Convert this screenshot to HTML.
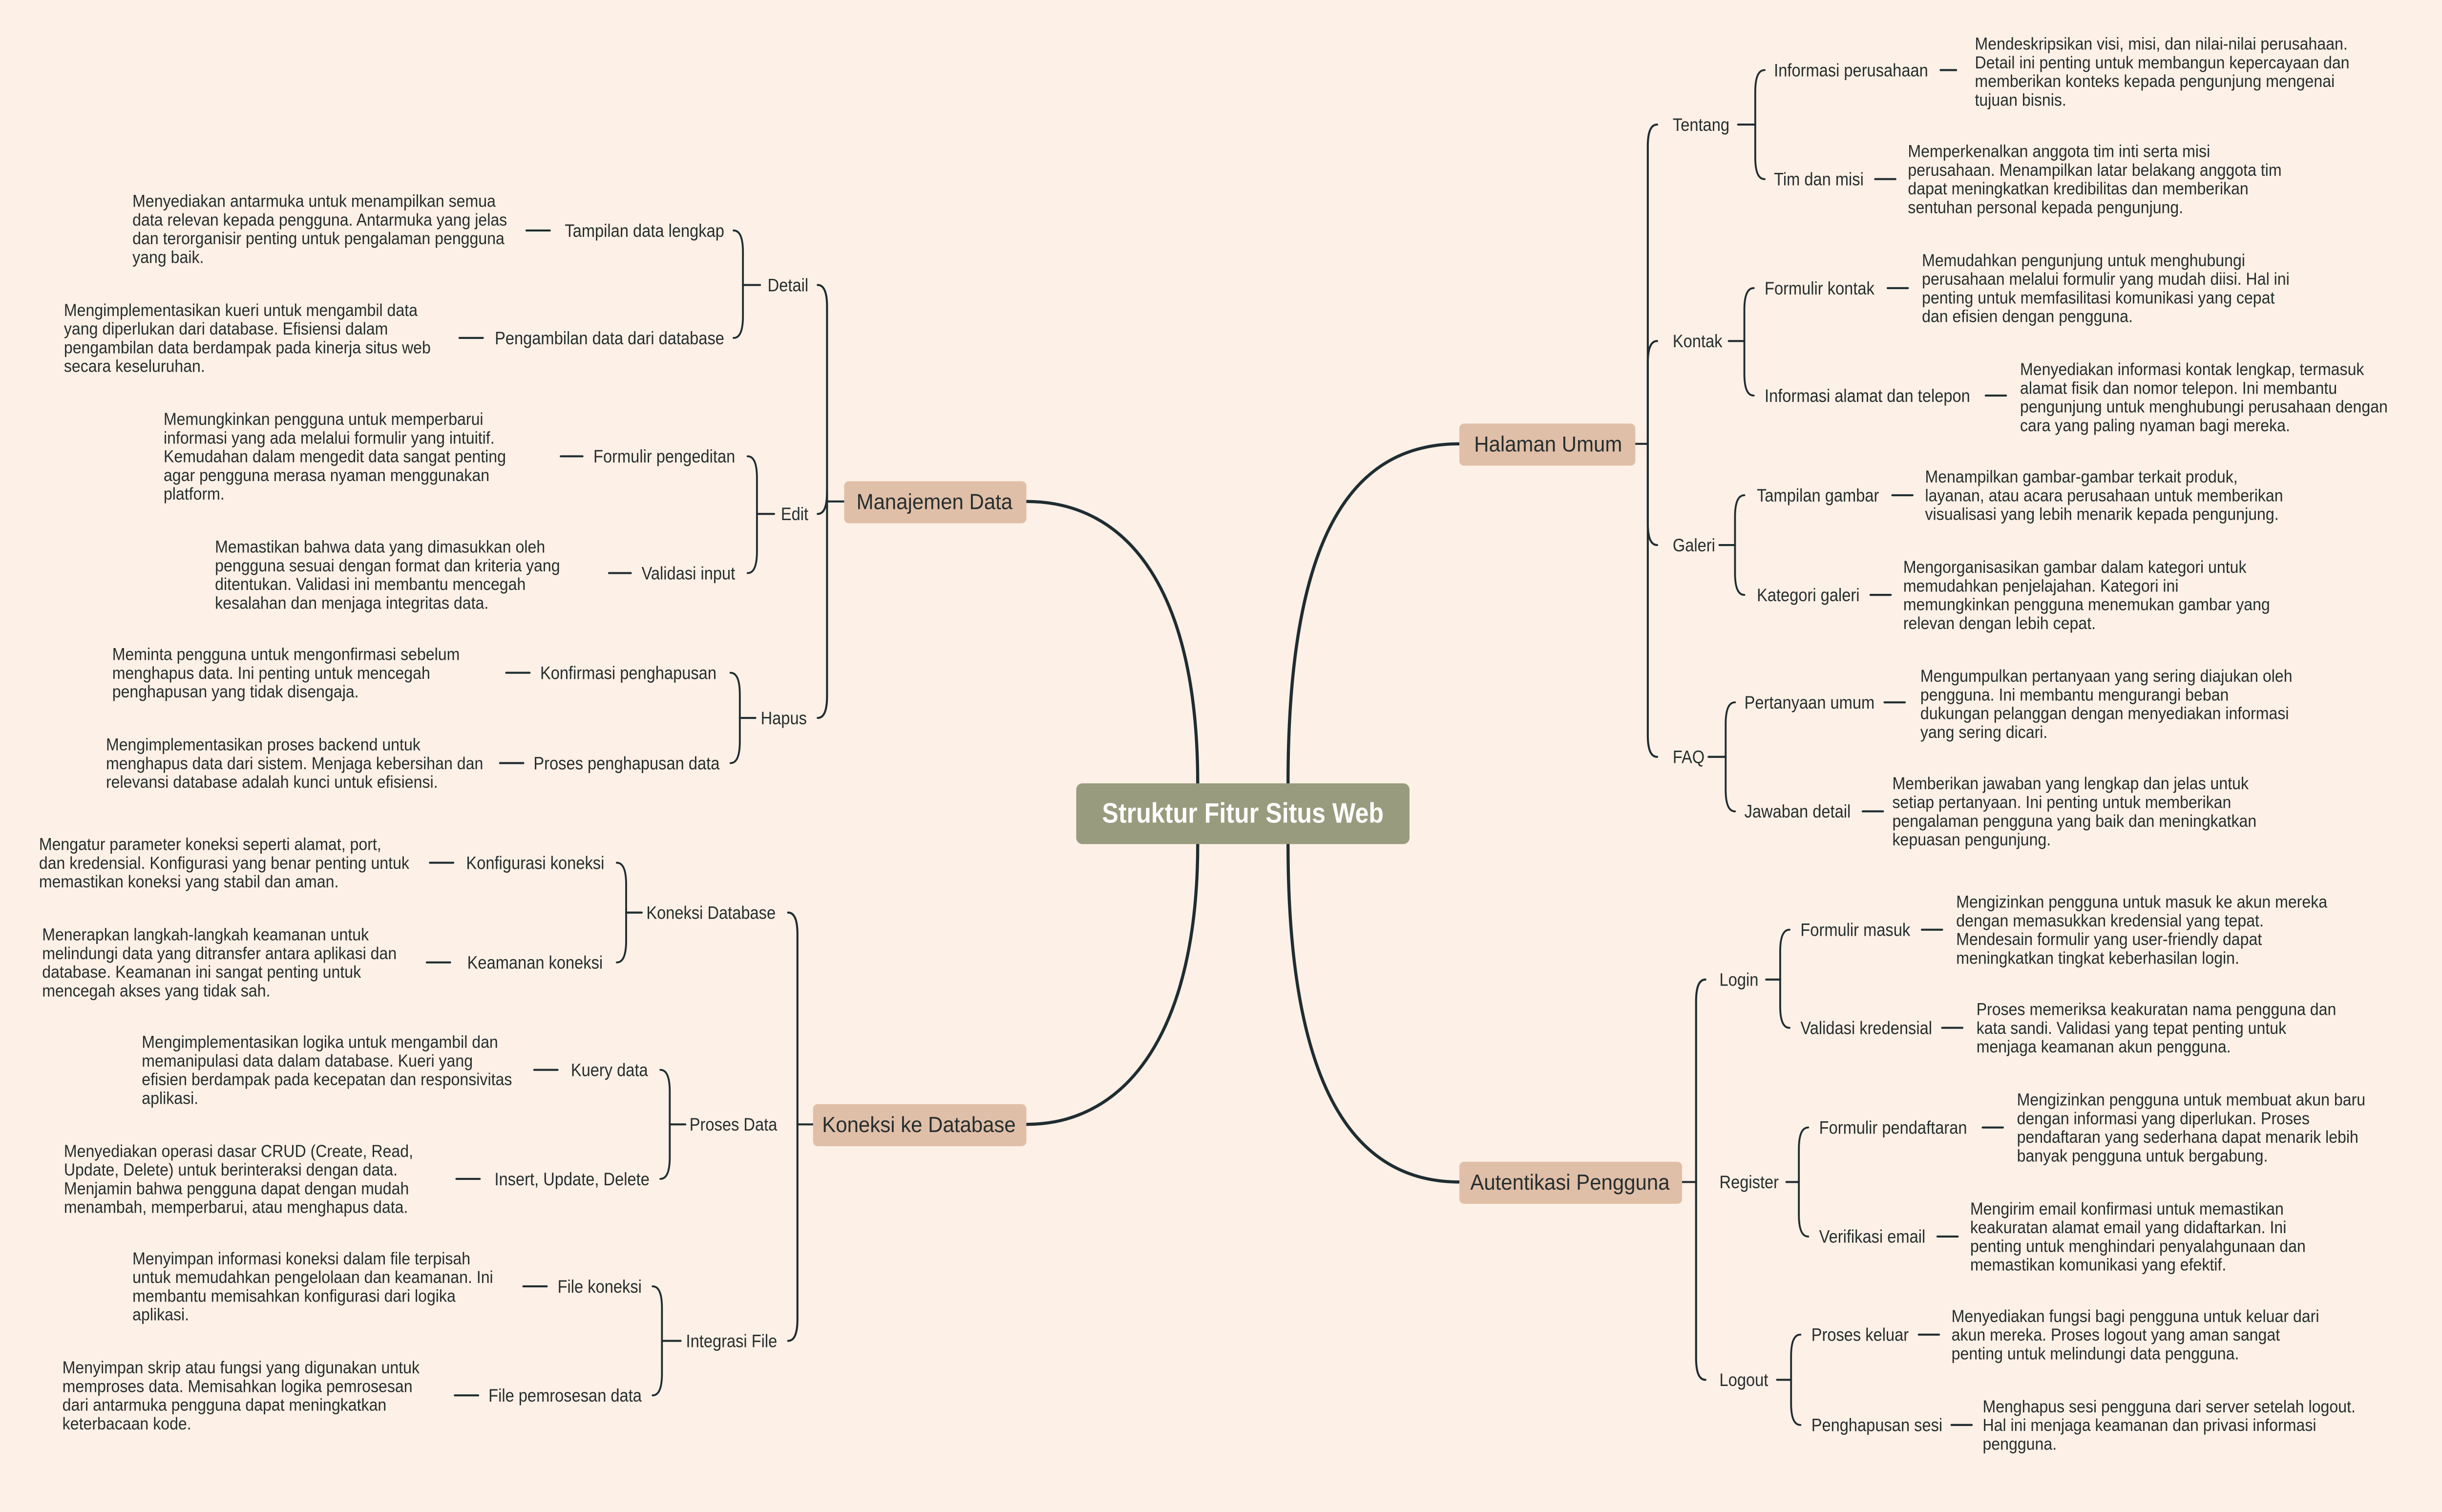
<!DOCTYPE html>
<html><head><meta charset="utf-8">
<style>
html,body{margin:0;padding:0;background:#fdf0e6;overflow:hidden;}
svg{display:block;}
</style></head>
<body>
<svg id="s" xmlns="http://www.w3.org/2000/svg" width="5080" height="3096" viewBox="0 0 1593 970.9">
<rect x="0" y="0" width="1600" height="980" fill="#fdf0e6"/>
<g id="lines" fill="none" stroke="#1f2d31" stroke-linecap="round"></g>
<g id="txt" font-family="Liberation Sans, sans-serif" fill="#262e2e"></g>
</svg>
<script>
var NS="http://www.w3.org/2000/svg";
var L=document.getElementById('lines'),G=document.getElementById('txt');
function P(d,w){var p=document.createElementNS(NS,'path');p.setAttribute('d',d);p.setAttribute('stroke-width',w||1.2);L.appendChild(p);}
function R(x,y,w,h,f,r){var e=document.createElementNS(NS,'rect');e.setAttribute('x',x);e.setAttribute('y',y);e.setAttribute('width',w);e.setAttribute('height',h);e.setAttribute('rx',r||3);e.setAttribute('fill',f);G.appendChild(e);}
function T(x,y,s,size,anchor,fill,weight,sx){var t=document.createElementNS(NS,'text');t.setAttribute('transform','translate('+x+','+(y+size*0.35)+') scale('+sx+',1)');t.setAttribute('font-size',size);if(anchor)t.setAttribute('text-anchor',anchor);if(fill)t.setAttribute('fill',fill);if(weight)t.setAttribute('font-weight',weight);t.textContent=s;G.appendChild(t);}
function br(xb,yp,yc,dir,w){
  if(Math.abs(yc-yp)<3)return;
  var s=yc>yp?1:-1;
  P('M'+xb+','+yp+' L'+xb+','+(yc-s*14)+' Q'+xb+','+yc+' '+(xb+dir*6)+','+yc,w);
}
// center
R(691,503,214,39,'#989b7e',4);
T(798,522,'Struktur Fitur Situs Web',18,'middle','#ffffff','bold',0.875);
// main curves
P('M827,503 C827,340 870,285 937,285',2);
P('M827,542 C827,700 870,759 937,759',2);
P('M769,503 C769,380 725,322 659,322',2);
P('M769,542 C769,660 725,722 659,722',2);
// main boxes
var MS=14,MX=0.94;
R(937,272,113,27,'#e0bfa8',3);T(994,285,'Halaman Umum',MS,'middle',null,null,MX);
R(937,746,143,27,'#e0bfa8',3);T(1008,759,'Autentikasi Pengguna',MS,'middle',null,null,MX);
R(542,309,117,27,'#e0bfa8',3);T(600,322,'Manajemen Data',MS,'middle',null,null,MX);
R(522,709,137,27,'#e0bfa8',3);T(590,722,'Koneksi ke Database',MS,'middle',null,null,MX);

var LS=11.5,LX=0.89,DS=11,DX=0.915;
function group(dir,boxEdge,yp,xb,kids){
  P('M'+boxEdge+','+yp+' L'+xb+','+yp,1.3);
  kids.forEach(function(k){
    br(xb,yp,k.y,dir,1.3);
    T(k.lx,k.y,k.t,LS,dir>0?'start':'end',null,null,LX);
    P('M'+k.sx+','+k.y+' L'+k.xb+','+k.y,1.3);
    k.items.forEach(function(it){
      br(k.xb,k.y,it.y,dir,1.2);
      T(it.x,it.y,it.t,LS,dir>0?'start':'end',null,null,LX);
      P('M'+it.d1+','+it.y+' L'+it.d2+','+it.y,1.3);
      it.l.forEach(function(line,i){T(it.dx,it.dy+i*12,line,DS,'start',null,null,DX);});
    });
  });
}
group(1,1050,285,1058,[
 {t:'Tentang',y:80,lx:1074,sx:1116,xb:1127,items:[
  {t:'Informasi perusahaan',y:45,x:1139,d1:1246,d2:1256,dx:1268,dy:28,l:['Mendeskripsikan visi, misi, dan nilai-nilai perusahaan.','Detail ini penting untuk membangun kepercayaan dan','memberikan konteks kepada pengunjung mengenai','tujuan bisnis.']},
  {t:'Tim dan misi',y:115,x:1139,d1:1204,d2:1217,dx:1225,dy:97,l:['Memperkenalkan anggota tim inti serta misi','perusahaan. Menampilkan latar belakang anggota tim','dapat meningkatkan kredibilitas dan memberikan','sentuhan personal kepada pengunjung.']}]},
 {t:'Kontak',y:219,lx:1074,sx:1110,xb:1120,items:[
  {t:'Formulir kontak',y:185,x:1133,d1:1212,d2:1225,dx:1234,dy:167,l:['Memudahkan pengunjung untuk menghubungi','perusahaan melalui formulir yang mudah diisi. Hal ini','penting untuk memfasilitasi komunikasi yang cepat','dan efisien dengan pengguna.']},
  {t:'Informasi alamat dan telepon',y:254,x:1133,d1:1275,d2:1288,dx:1297,dy:237,l:['Menyediakan informasi kontak lengkap, termasuk','alamat fisik dan nomor telepon. Ini membantu','pengunjung untuk menghubungi perusahaan dengan','cara yang paling nyaman bagi mereka.']}]},
 {t:'Galeri',y:350,lx:1074,sx:1104,xb:1114,items:[
  {t:'Tampilan gambar',y:318,x:1128,d1:1215,d2:1228,dx:1236,dy:306,l:['Menampilkan gambar-gambar terkait produk,','layanan, atau acara perusahaan untuk memberikan','visualisasi yang lebih menarik kepada pengunjung.']},
  {t:'Kategori galeri',y:382,x:1128,d1:1201,d2:1214,dx:1222,dy:364,l:['Mengorganisasikan gambar dalam kategori untuk','memudahkan penjelajahan. Kategori ini','memungkinkan pengguna menemukan gambar yang','relevan dengan lebih cepat.']}]},
 {t:'FAQ',y:486,lx:1074,sx:1097,xb:1108,items:[
  {t:'Pertanyaan umum',y:451,x:1120,d1:1210,d2:1223,dx:1233,dy:434,l:['Mengumpulkan pertanyaan yang sering diajukan oleh','pengguna. Ini membantu mengurangi beban','dukungan pelanggan dengan menyediakan informasi','yang sering dicari.']},
  {t:'Jawaban detail',y:521,x:1120,d1:1196,d2:1209,dx:1215,dy:503,l:['Memberikan jawaban yang lengkap dan jelas untuk','setiap pertanyaan. Ini penting untuk memberikan','pengalaman pengguna yang baik dan meningkatkan','kepuasan pengunjung.']}]}
]);
group(1,1080,759,1089,[
 {t:'Login',y:629,lx:1104,sx:1134,xb:1143,items:[
  {t:'Formulir masuk',y:597,x:1156,d1:1234,d2:1247,dx:1256,dy:579,l:['Mengizinkan pengguna untuk masuk ke akun mereka','dengan memasukkan kredensial yang tepat.','Mendesain formulir yang user-friendly dapat','meningkatkan tingkat keberhasilan login.']},
  {t:'Validasi kredensial',y:660,x:1156,d1:1247,d2:1260,dx:1269,dy:648,l:['Proses memeriksa keakuratan nama pengguna dan','kata sandi. Validasi yang tepat penting untuk','menjaga keamanan akun pengguna.']}]},
 {t:'Register',y:759,lx:1104,sx:1147,xb:1155,items:[
  {t:'Formulir pendaftaran',y:724,x:1168,d1:1273,d2:1286,dx:1295,dy:706,l:['Mengizinkan pengguna untuk membuat akun baru','dengan informasi yang diperlukan. Proses','pendaftaran yang sederhana dapat menarik lebih','banyak pengguna untuk bergabung.']},
  {t:'Verifikasi email',y:794,x:1168,d1:1244,d2:1257,dx:1265,dy:776,l:['Mengirim email konfirmasi untuk memastikan','keakuratan alamat email yang didaftarkan. Ini','penting untuk menghindari penyalahgunaan dan','memastikan komunikasi yang efektif.']}]},
 {t:'Logout',y:886,lx:1104,sx:1141,xb:1150,items:[
  {t:'Proses keluar',y:857,x:1163,d1:1232,d2:1245,dx:1253,dy:845,l:['Menyediakan fungsi bagi pengguna untuk keluar dari','akun mereka. Proses logout yang aman sangat','penting untuk melindungi data pengguna.']},
  {t:'Penghapusan sesi',y:915,x:1163,d1:1253,d2:1266,dx:1273,dy:903,l:['Menghapus sesi pengguna dari server setelah logout.','Hal ini menjaga keamanan dan privasi informasi','pengguna.']}]}
]);
group(-1,542,322,531,[
 {t:'Detail',y:183,lx:519,sx:488,xb:477,items:[
  {t:'Tampilan data lengkap',y:148,x:465,d1:338,d2:353,dx:85,dy:129,l:['Menyediakan antarmuka untuk menampilkan semua','data relevan kepada pengguna. Antarmuka yang jelas','dan terorganisir penting untuk pengalaman pengguna','yang baik.']},
  {t:'Pengambilan data dari database',y:217,x:465,d1:295,d2:310,dx:41,dy:199,l:['Mengimplementasikan kueri untuk mengambil data','yang diperlukan dari database. Efisiensi dalam','pengambilan data berdampak pada kinerja situs web','secara keseluruhan.']}]},
 {t:'Edit',y:330,lx:519,sx:497,xb:486,items:[
  {t:'Formulir pengeditan',y:293,x:472,d1:360,d2:374,dx:105,dy:269,l:['Memungkinkan pengguna untuk memperbarui','informasi yang ada melalui formulir yang intuitif.','Kemudahan dalam mengedit data sangat penting','agar pengguna merasa nyaman menggunakan','platform.']},
  {t:'Validasi input',y:368,x:472,d1:391,d2:405,dx:138,dy:351,l:['Memastikan bahwa data yang dimasukkan oleh','pengguna sesuai dengan format dan kriteria yang','ditentukan. Validasi ini membantu mencegah','kesalahan dan menjaga integritas data.']}]},
 {t:'Hapus',y:461,lx:518,sx:485,xb:475,items:[
  {t:'Konfirmasi penghapusan',y:432,x:460,d1:325,d2:340,dx:72,dy:420,l:['Meminta pengguna untuk mengonfirmasi sebelum','menghapus data. Ini penting untuk mencegah','penghapusan yang tidak disengaja.']},
  {t:'Proses penghapusan data',y:490,x:462,d1:321,d2:336,dx:68,dy:478,l:['Mengimplementasikan proses backend untuk','menghapus data dari sistem. Menjaga kebersihan dan','relevansi database adalah kunci untuk efisiensi.']}]}
]);
group(-1,522,722,512,[
 {t:'Koneksi Database',y:586,lx:498,sx:412,xb:402,items:[
  {t:'Konfigurasi koneksi',y:554,x:388,d1:276,d2:291,dx:25,dy:542,l:['Mengatur parameter koneksi seperti alamat, port,','dan kredensial. Konfigurasi yang benar penting untuk','memastikan koneksi yang stabil dan aman.']},
  {t:'Keamanan koneksi',y:618,x:387,d1:274,d2:289,dx:27,dy:600,l:['Menerapkan langkah-langkah keamanan untuk','melindungi data yang ditransfer antara aplikasi dan','database. Keamanan ini sangat penting untuk','mencegah akses yang tidak sah.']}]},
 {t:'Proses Data',y:722,lx:499,sx:440,xb:430,items:[
  {t:'Kuery data',y:687,x:416,d1:343,d2:358,dx:91,dy:669,l:['Mengimplementasikan logika untuk mengambil dan','memanipulasi data dalam database. Kueri yang','efisien berdampak pada kecepatan dan responsivitas','aplikasi.']},
  {t:'Insert, Update, Delete',y:757,x:417,d1:293,d2:308,dx:41,dy:739,l:['Menyediakan operasi dasar CRUD (Create, Read,','Update, Delete) untuk berinteraksi dengan data.','Menjamin bahwa pengguna dapat dengan mudah','menambah, memperbarui, atau menghapus data.']}]},
 {t:'Integrasi File',y:861,lx:499,sx:437,xb:425,items:[
  {t:'File koneksi',y:826,x:412,d1:336,d2:351,dx:85,dy:808,l:['Menyimpan informasi koneksi dalam file terpisah','untuk memudahkan pengelolaan dan keamanan. Ini','membantu memisahkan konfigurasi dari logika','aplikasi.']},
  {t:'File pemrosesan data',y:896,x:412,d1:292,d2:307,dx:40,dy:878,l:['Menyimpan skrip atau fungsi yang digunakan untuk','memproses data. Memisahkan logika pemrosesan','dari antarmuka pengguna dapat meningkatkan','keterbacaan kode.']}]}
]);
</script>
</body></html>
